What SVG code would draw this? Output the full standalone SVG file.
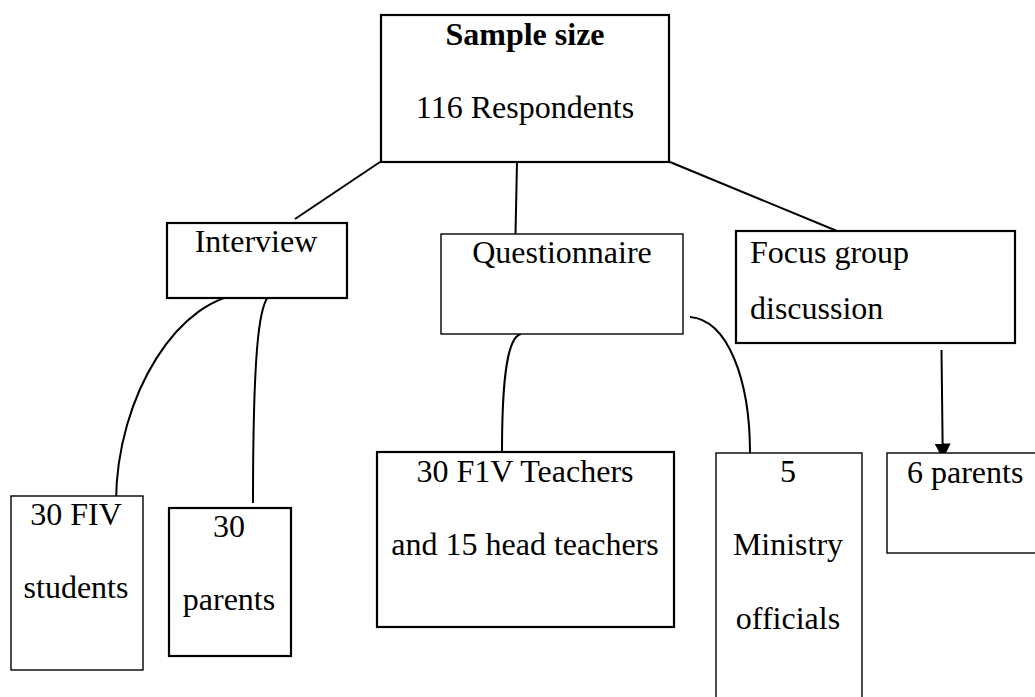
<svg xmlns="http://www.w3.org/2000/svg" width="1035" height="697" viewBox="0 0 1035 697">
<style>
  .box{fill:#fff;stroke:#000}
  .thick{stroke-width:2.2}
  .thin{stroke-width:1.4}
  .t{font-family:"Liberation Serif","Times New Roman",serif;font-size:32px;fill:#000}
  .c{text-anchor:middle}
  .b{font-weight:bold}
  .line{fill:none;stroke:#000;stroke-width:2}
</style>
<defs>
  <marker id="arrow" markerUnits="userSpaceOnUse" markerWidth="16" markerHeight="16" viewBox="0 0 16 16" refX="16" refY="8" orient="auto">
    <path d="M0,0 L16,8 L0,16 Z" fill="#000"/>
  </marker>
</defs>
<rect width="1035" height="697" fill="#fff"/>
<g id="connectors">
  <line class="line" x1="380" y1="162" x2="295" y2="219"/>
  <line class="line" x1="517" y1="162" x2="515.5" y2="234"/>
  <line class="line" x1="670" y1="162" x2="837" y2="231"/>
  <path class="line" d="M247,294 C180,295 116,395 116,503"/>
  <path class="line" d="M271,294 C260,300 253,340 253,503"/>
  <path class="line" d="M521,334 C507,337 502,380 502,452"/>
  <path class="line" d="M690,317 C728,320 750,380 750,453"/>
  <line class="line" x1="941.5" y1="350" x2="942.8" y2="459.5" marker-end="url(#arrow)"/>
</g>
<g id="node-sample">
  <rect class="box thick" x="381" y="15" width="288" height="147"/>
  <text class="t c b" x="525" y="45">Sample size</text>
  <text class="t c" x="525" y="118">116 Respondents</text>
</g>
<g id="node-interview">
  <rect class="box thick" x="167" y="223" width="180" height="75"/>
  <text class="t c" x="256" y="252">Interview</text>
</g>
<g id="node-questionnaire">
  <rect class="box thin" x="441" y="234" width="242" height="100"/>
  <text class="t c" x="562" y="263">Questionnaire</text>
</g>
<g id="node-focus">
  <rect class="box thick" x="736" y="231" width="279" height="112"/>
  <text class="t" x="750" y="263">Focus group</text>
  <text class="t" x="750" y="319">discussion</text>
</g>
<g id="node-students">
  <rect class="box thin" x="11" y="496" width="132" height="174"/>
  <text class="t c" x="76" y="525">30 FIV</text>
  <text class="t c" x="76" y="598">students</text>
</g>
<g id="node-parents30">
  <rect class="box thick" x="169" y="508" width="122" height="148"/>
  <text class="t c" x="229" y="537">30</text>
  <text class="t c" x="229" y="610">parents</text>
</g>
<g id="node-teachers">
  <rect class="box thick" x="377" y="452" width="297" height="175"/>
  <text class="t c" x="525" y="482">30 F1V Teachers</text>
  <text class="t c" x="525" y="555">and 15 head teachers</text>
</g>
<g id="node-ministry">
  <rect class="box thin" x="716" y="453" width="146" height="260"/>
  <text class="t c" x="788" y="482">5</text>
  <text class="t c" x="788" y="555">Ministry</text>
  <text class="t c" x="788" y="629">officials</text>
</g>
<g id="node-parents6">
  <rect class="box thin" x="887" y="453" width="160" height="100"/>
  <text class="t" x="907" y="483">6 parents</text>
</g>
</svg>
